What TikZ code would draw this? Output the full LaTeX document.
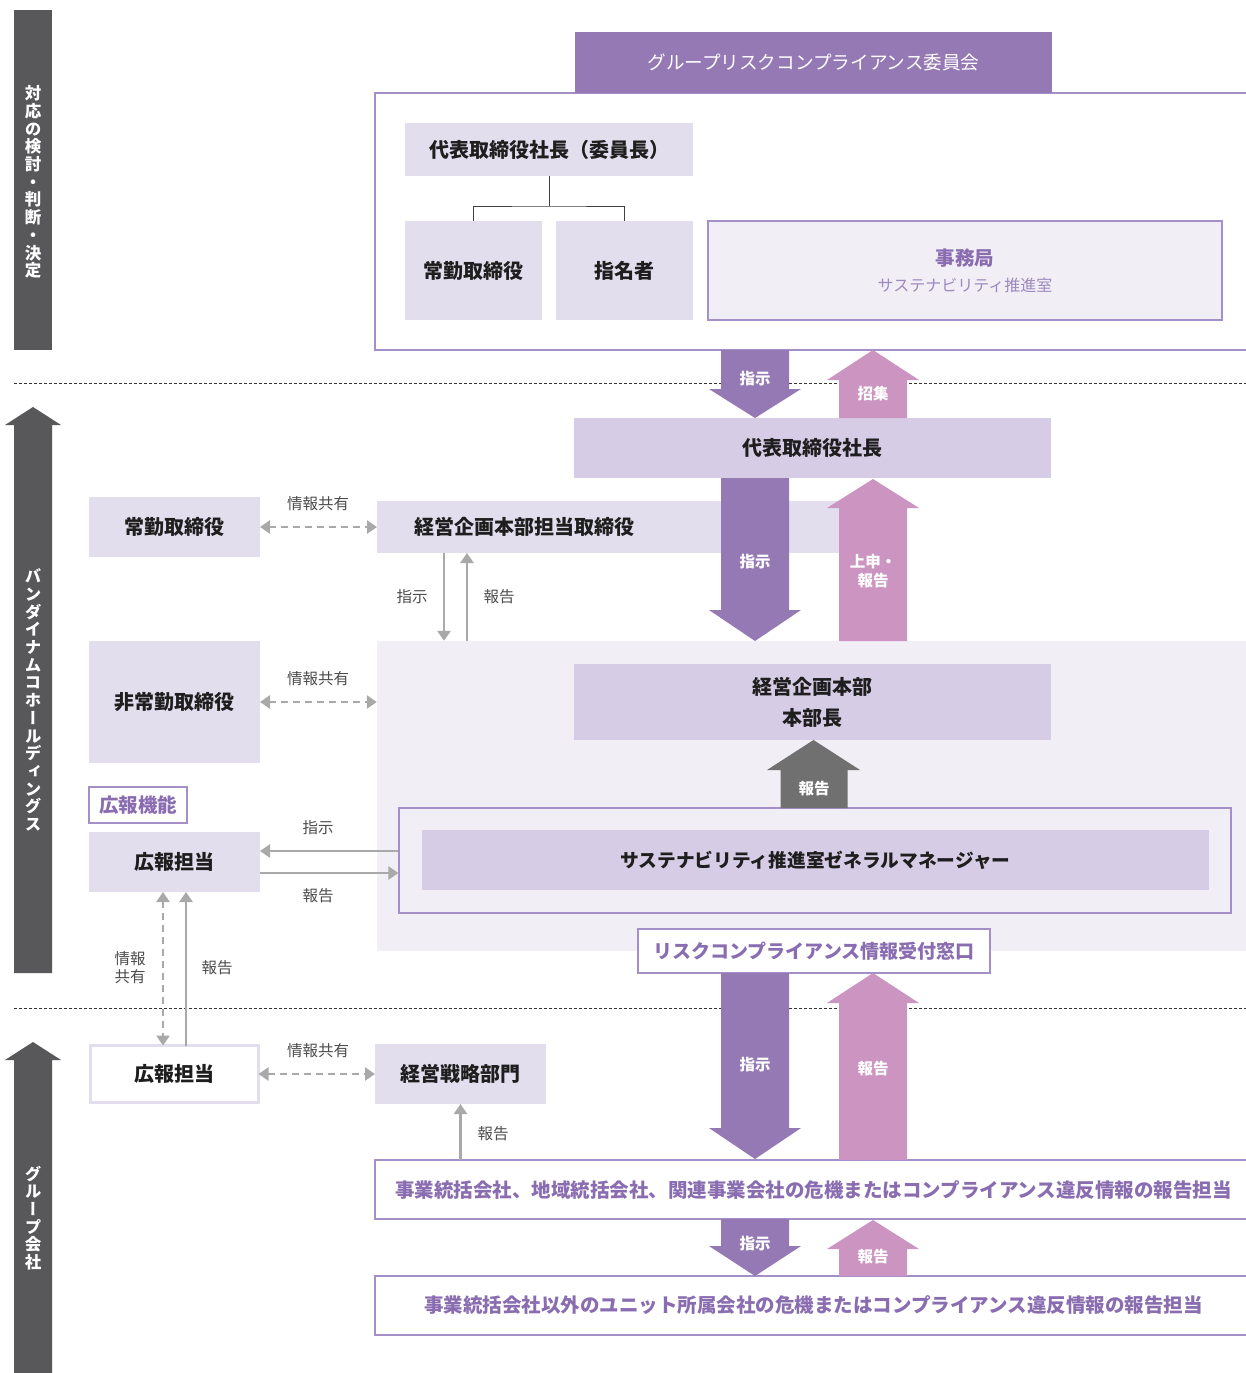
\documentclass[tikz,border=0pt]{standalone}
\usepackage{fontspec}
\setmainfont{Noto Sans CJK JP}
\newfontfamily\vfont[RawFeature=+vert]{Noto Sans CJK JP}
\usetikzlibrary{arrows.meta,calc}
\definecolor{barc}{HTML}{58575A}
\definecolor{purA}{HTML}{9579B4}
\definecolor{pinkA}{HTML}{CC94C1}
\definecolor{lavA}{HTML}{E3DEEE}
\definecolor{lavB}{HTML}{D7CCE5}
\definecolor{bgL}{HTML}{F1EEF6}
\definecolor{pline}{HTML}{A58FC8}
\definecolor{ptext}{HTML}{8A6DB1}
\definecolor{ptextL}{HTML}{9D89BD}
\definecolor{garc}{HTML}{A9A9A9}
\definecolor{grayarr}{HTML}{707070}
\definecolor{labc}{HTML}{4D4D4D}
\definecolor{txt}{HTML}{1E1E1E}
\tikzset{
  gtip/.tip={Triangle[width=13pt,length=10pt]},
  box/.style={inner sep=0pt, outer sep=0pt, text=txt, font=\fontsize{20}{24}\selectfont\bfseries},
  boxA/.style={box, fill=lavA},
  boxB/.style={box, fill=lavB},
  pbox/.style={inner sep=0pt, outer sep=0pt, draw=pline, line width=1.2pt, fill=white, text=ptext, font=\fontsize{19.5}{24}\selectfont\bfseries},
  wlab/.style={text=white, font=\fontsize{15.5}{19}\selectfont\bfseries, inner sep=0pt, align=center},
  glab/.style={text=labc, font=\fontsize{15.5}{19}\selectfont, inner sep=0pt, align=center},
  gline/.style={draw=garc, line width=2.8pt},
  gdash/.style={gline, dash pattern=on 7pt off 5pt},
  divider/.style={draw=black!80, line width=0.8pt, dash pattern=on 3pt off 2pt},
  vtext/.style={text=white, align=center, inner sep=0pt, font=\vfont\bfseries\fontsize{16.5}{17.7}\selectfont},
}
% x, start y, head base y, tip y, colour
\newcommand\bigarrow[5]{\fill[#5] ({#1-34},#2) -- ({#1+34},#2) -- ({#1+34},#3) -- ({#1+46},#3) -- (#1,#4) -- ({#1-46},#3) -- ({#1-34},#3) -- cycle;}
\begin{document}
\begin{tikzpicture}[x=1pt,y=-1pt]
\useasboundingbox[fill=white] (0,0) rectangle (1246,1373);

% dividers
\draw[divider] (14,383) -- (1246,383);
\draw[divider] (14,1008) -- (1246,1008);

% left bars
\fill[barc] (14,10) rectangle (52,350);
\node[vtext] (vt1) at (33,182) {対\\応\\の\\検\\討\\・\\判\\断\\・\\決\\定};
\fill[barc] (14,973) -- (14,425) -- (5,425) -- (33,407) -- (61,425) -- (52,425) -- (52,973) -- cycle;
\node[vtext] (vt2) at (33,700) {バ\\ン\\ダ\\イ\\ナ\\ム\\コ\\ホ\\ー\\ル\\デ\\ィ\\ン\\グ\\ス};
\fill[barc] (14,1373) -- (14,1060) -- (5,1060) -- (33,1042) -- (61,1060) -- (52,1060) -- (52,1373) -- cycle;
\node[vtext] (vt3) at (33,1218) {グ\\ル\\ー\\プ\\会\\社};

% top committee frame
\draw[draw=pline, line width=1.2pt] (1252,93) -- (375,93) -- (375,350) -- (1252,350);
\node[fill=purA, inner sep=0pt, minimum width=477pt, minimum height=61pt, text=white, font=\fontsize{18.6}{22}\selectfont] (title) at (813.5,62.5) {グループリスクコンプライアンス委員会};
\node[boxA, minimum width=288pt, minimum height=53pt] (chair) at (549,149.5) {代表取締役社長（委員長）};
\node[boxA, minimum width=137pt, minimum height=99pt] (jokin1) at (473.5,270.5) {常勤取締役};
\node[boxA, minimum width=137pt, minimum height=99pt] (shimei) at (624.5,270.5) {指名者};
\node[inner sep=0pt, fill=bgL, draw=pline, line width=1.2pt, minimum width=514pt, minimum height=99pt, align=center] (jimu) at (965,270.5)
  {{\color{ptext}\fontsize{19.5}{22}\selectfont\bfseries 事務局}\\[10pt]{\color{ptextL}\fontsize{16}{18}\selectfont サステナビリティ推進室}};
\draw[draw=black!75, line width=0.9pt] (chair.south) -- ++(0,30) coordinate (tj);
\draw[draw=black!75, line width=0.9pt] (jokin1.north) |- (tj) -| (shimei.north);

% president
\node[boxB, minimum width=477pt, minimum height=60pt] (pres) at (812.5,448) {代表取締役社長};
\node[boxA, minimum width=462pt, minimum height=52pt, inner xsep=37pt, text width=388pt, align=left] (ktori) at (608,527) {経営企画本部担当取締役};

% light area
\node[fill=bgL, inner sep=0pt, minimum width=875pt, minimum height=310pt] (bg) at (814.5,796) {};
\node[boxB, minimum width=477pt, minimum height=76pt, align=center, font=\fontsize{20}{31}\selectfont\bfseries] (bucho) at (812.5,702) {経営企画本部\\本部長};
\node[inner sep=0pt, fill=bgL, draw=pline, line width=1.2pt, minimum width=832pt, minimum height=105pt] (gmo) at (815,860.5) {};
\node[boxB, minimum width=787pt, minimum height=60pt, font=\fontsize{18.7}{22}\selectfont\bfseries] (gm) at (815.5,860) {サステナビリティ推進室ゼネラルマネージャー};
\node[pbox, minimum width=352pt, minimum height=44pt, font=\fontsize{19}{22}\selectfont\bfseries] (mado) at (814,951) {リスクコンプライアンス情報受付窓口};

% left column
\node[boxA, minimum width=171pt, minimum height=60pt] (jokin2) at (174.5,527) {常勤取締役};
\node[boxA, minimum width=171pt, minimum height=122pt] (hijo) at (174.5,702) {非常勤取締役};
\node[pbox, minimum width=98pt, minimum height=36pt] (kinou) at (138,805) {広報機能};
\node[boxA, minimum width=171pt, minimum height=60pt] (koho1) at (174.5,862) {広報担当};
\node[box, fill=white, draw=lavA, line width=2.5pt, minimum width=168pt, minimum height=57pt] (koho2) at (174.5,1074) {広報担当};
\node[boxA, minimum width=171pt, minimum height=60pt] (senr) at (460.5,1074) {経営戦略部門};

% group company boxes
\node[pbox, minimum width=877pt, minimum height=59pt] (jg1) at (813.5,1189.5) {事業統括会社、地域統括会社、関連事業会社の危機またはコンプライアンス違反情報の報告担当};
\node[pbox, minimum width=877pt, minimum height=59pt] (jg2) at (813.5,1305.5) {事業統括会社以外のユニット所属会社の危機またはコンプライアンス違反情報の報告担当};

% big arrows
\bigarrow{755}{350}{389}{418}{purA}
\node[wlab] (l1) at (755,379) {指示};
\bigarrow{873}{418}{380}{350}{pinkA}
\node[wlab] (l2) at (873,394) {招集};
\bigarrow{755}{478}{610}{641}{purA}
\node[wlab] (l3) at (755,562) {指示};
\bigarrow{873}{641}{508}{479}{pinkA}
\node[wlab, font=\fontsize{15.5}{19}\selectfont\bfseries] (l4) at (873,571) {上申・\\報告};
\fill[grayarr] (780.5,808) -- (847.5,808) -- (847.5,770) -- (860,770) -- (813.5,740) -- (767,770) -- (780.5,770) -- cycle;
\node[wlab] (l5) at (814,789) {報告};
\bigarrow{755}{973}{1128}{1159}{purA}
\node[wlab] (l6) at (755,1065) {指示};
\bigarrow{873}{1160}{1003}{973}{pinkA}
\node[wlab] (l7) at (873,1069) {報告};
\bigarrow{755}{1219}{1246}{1276}{purA}
\node[wlab] (l8) at (755,1244) {指示};
\bigarrow{873}{1276}{1249}{1220}{pinkA}
\node[wlab] (l9) at (873,1257) {報告};

% thin grey connectors
\draw[gdash, gtip-gtip] (jokin2.east) -- (ktori.west);
\node[glab] (g1) at (318,504) {情報共有};
\draw[gdash, gtip-gtip] (hijo.east) -- (hijo.east -| bg.west);
\node[glab] (g2) at (318,679) {情報共有};
\draw[gline, -gtip] ([xshift=67pt]ktori.south west) -- ([xshift=67pt]ktori.south west |- bg.north);
\draw[gline, -gtip] ([xshift=90pt]ktori.south west |- bg.north) -- ([xshift=90pt]ktori.south west);
\node[glab] (g3) at (412,597) {指示};
\node[glab] (g4) at (499,597) {報告};
\draw[gline, -gtip] ([yshift=11pt]koho1.east -| gmo.west) -- ([yshift=11pt]koho1.east);
\draw[gline, -gtip] ([yshift=-11pt]koho1.east) -- ([yshift=-11pt]koho1.east -| gmo.west);
\node[glab] (g5) at (318,828) {指示};
\node[glab] (g6) at (318,896) {報告};
\draw[gdash, gtip-gtip] ([xshift=-11.5pt]koho1.south) -- ([xshift=-11.5pt]koho1.south |- koho2.north);
\draw[gline, -gtip] ([xshift=11.5pt]koho1.south |- koho2.north) -- ([xshift=11.5pt]koho1.south);
\node[glab, font=\fontsize{15.5}{18}\selectfont] (g7) at (130,968) {情報\\共有};
\node[glab] (g8) at (217,968) {報告};
\draw[gdash, gtip-gtip] (koho2.east) -- (senr.west);
\node[glab] (g9) at (318,1051) {情報共有};
\draw[gline, -gtip] (senr.south |- jg1.north) -- (senr.south);
\node[glab] (g10) at (493,1134) {報告};
\end{tikzpicture}
\end{document}
